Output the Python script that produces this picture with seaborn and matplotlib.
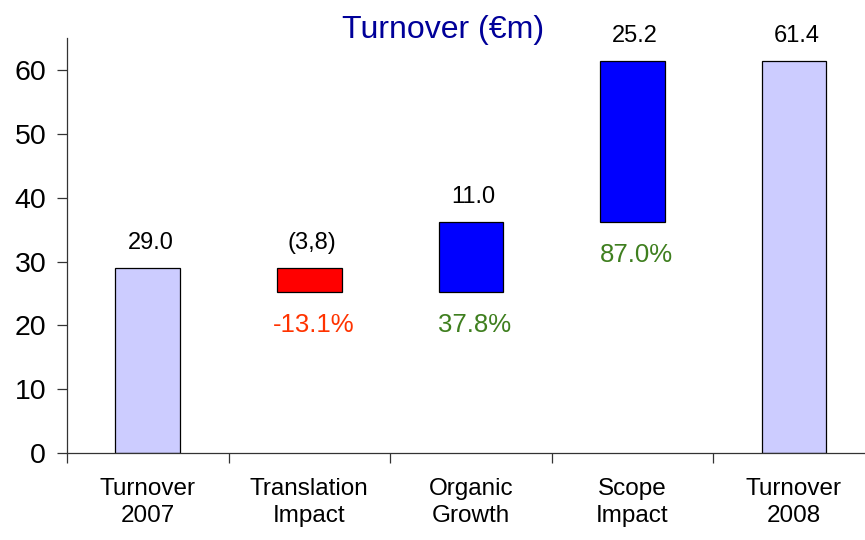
import matplotlib
matplotlib.use('Agg')
import matplotlib.pyplot as plt
import seaborn as sns
import numpy as np
from matplotlib.ticker import FixedLocator

# Data
categories = ['Turnover\n2007', 'Translation\nImpact', 'Organic\nGrowth', 'Scope\nImpact', 'Turnover\n2008']
start_value = 29.0
deltas = [-3.8, 11.0, 25.2]
end_value = 61.4
value_labels = ['29.0', '(3,8)', '11.0', '25.2', '61.4']
pct_labels = [None, '-13.1%', '37.8%', '87.0%', None]

# Build waterfall bottoms / heights
levels = np.cumsum([start_value] + deltas)
bottoms = [0.0]
heights = [start_value]
for prev, d in zip(levels[:-1], deltas):
    bottoms.append(min(prev, prev + d))
    heights.append(abs(d))
bottoms.append(0.0)
heights.append(end_value)
tops = [b + h for b, h in zip(bottoms, heights)]

bar_colors = ['#CCCCFF', '#FF0000', '#0000FF', '#0000FF', '#CCCCFF']
pct_colors = [None, '#FF3300', '#3F7F1F', '#3F7F1F', None]

sns.set_style('ticks')
plt.rcParams['font.family'] = ['Liberation Sans', 'DejaVu Sans']

fig = plt.figure(figsize=(8.65, 5.4), dpi=100)
ax = fig.add_axes([0.0775, 0.161, 0.9225, 0.7686])

sns.barplot(x=categories, y=heights, bottom=bottoms, color=bar_colors[0],
            saturation=1, width=0.4, edgecolor='black', linewidth=0.9, ax=ax)
for patch, c in zip(ax.patches, bar_colors):
    patch.set_facecolor(c)

ax.set_ylim(0, 65)
ax.set_xlim(-0.5, 4.44)
ax.set_yticks(range(0, 61, 10))
ax.tick_params(axis='y', labelsize=20.5, length=7, width=0.9, pad=8, colors='#333333', labelcolor='black')

# categories centered, tick marks on the boundaries
ax.xaxis.set_minor_locator(FixedLocator(np.arange(-0.5, 5, 1.0)))
ax.tick_params(axis='x', which='major', length=0, labelsize=17.5, pad=18, labelcolor='black')
ax.tick_params(axis='x', which='minor', length=7, width=0.9, color='#333333')
for lbl in ax.get_xticklabels():
    lbl.set_linespacing(1.3)

for s in ['top', 'right']:
    ax.spines[s].set_visible(False)
for s in ['left', 'bottom']:
    ax.spines[s].set_color('#333333')
    ax.spines[s].set_linewidth(0.9)

# value labels above bars
for i, (t, lab) in enumerate(zip(tops, value_labels)):
    ax.annotate(lab, (i, t), xytext=(2, 13.5), textcoords='offset points',
                ha='center', va='baseline', fontsize=17, color='black')

# percentage labels below bars
for i, (b, lab, c) in enumerate(zip(bottoms, pct_labels, pct_colors)):
    if lab is None:
        continue
    ax.annotate(lab, (i, b), xytext=(3, -15), textcoords='offset points',
                ha='center', va='top', fontsize=18.5, color=c)

fig.text(0.512, 0.93, 'Turnover (€m)', ha='center', va='baseline',
         fontsize=23, color='#000099')

fig.savefig('out.png', dpi=100)
